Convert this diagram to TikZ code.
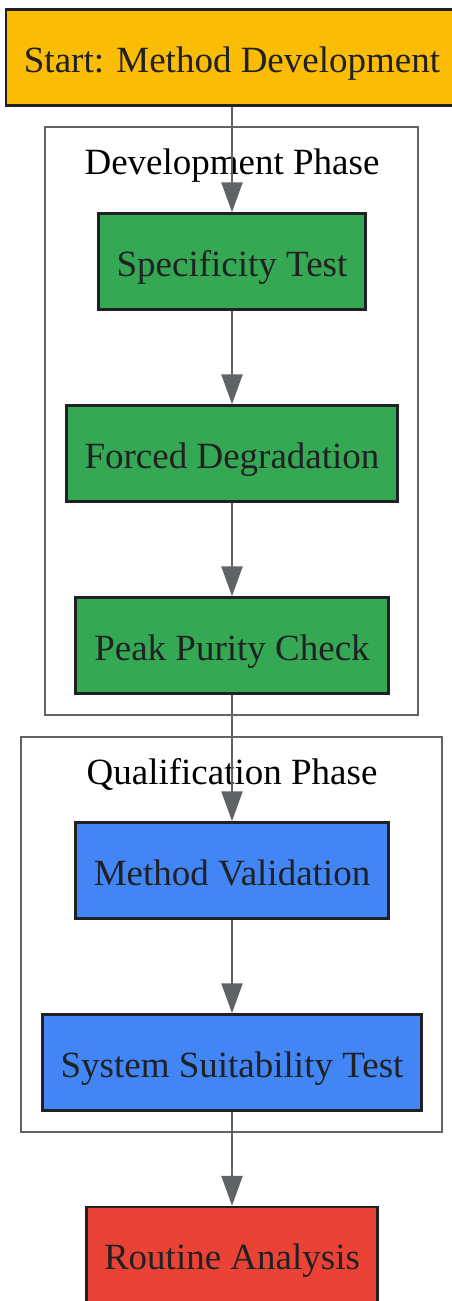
\documentclass[tikz,border=0pt]{standalone}
\usepackage{fontspec}
\setmainfont{Liberation Serif}
\usetikzlibrary{arrows.meta}
\definecolor{startyellow}{HTML}{FBBC04}
\definecolor{devgreen}{HTML}{34A853}
\definecolor{qualblue}{HTML}{4285F4}
\definecolor{endred}{HTML}{EA4335}
\definecolor{inkdark}{HTML}{202124}
\definecolor{edgegray}{HTML}{5F6368}
\begin{document}
\begin{tikzpicture}[x=1pt, y=-1pt,
		stage/.style={draw=inkdark, line width=2.5pt, minimum height=96pt, inner xsep=8pt, text height=29pt, text depth=0pt, text=inkdark, font=\fontsize{37}{44}\selectfont},
		phase/.style={draw=edgegray, line width=2.5pt},
		phaselabel/.style={text=black, text height=26pt, text depth=0pt, font=\fontsize{37}{44}\selectfont},
		flow/.style={draw=edgegray, line width=2.5pt, -{Triangle[length=30pt, width=21pt]}}]
		\useasboundingbox (0, 0) rectangle (451, 1301);
		% clusters
		\draw [phase] (45, 127) rectangle (418, 715);
		\node [phaselabel] (devlabel) at (232, 161) {Development Phase};
		\draw [phase] (21, 737) rectangle (442, 1132);
		\node [phaselabel] (quallabel) at (232, 771) {Qualification Phase};
		% steps
		\node [stage, fill=startyellow, minimum width=452pt] (start) at (232, 57.5) {Start: Method Development};
		\node [stage, fill=devgreen, minimum width=267pt] (spec) at (232, 261.5) {Specificity Test};
		\node [stage, fill=devgreen, minimum width=331pt] (forced) at (232, 453.5) {Forced Degradation};
		\node [stage, fill=devgreen, minimum width=313pt] (purity) at (232, 645.5) {Peak Purity Check};
		\node [stage, fill=qualblue, minimum width=313pt] (valid) at (232, 870.5) {Method Validation};
		\node [stage, fill=qualblue, minimum width=379pt] (suit) at (232, 1062.5) {System Suitability Test};
		\node [stage, fill=endred, minimum width=291pt] (routine) at (232, 1255) {Routine Analysis};
		% flow
		\draw [flow] (start) -- (spec);
		\draw [flow] (spec) -- (forced);
		\draw [flow] (forced) -- (purity);
		\draw [flow] (purity) -- (valid);
		\draw [flow] (valid) -- (suit);
		\draw [flow] (suit) -- (routine);
	\end{tikzpicture}
\end{document}
